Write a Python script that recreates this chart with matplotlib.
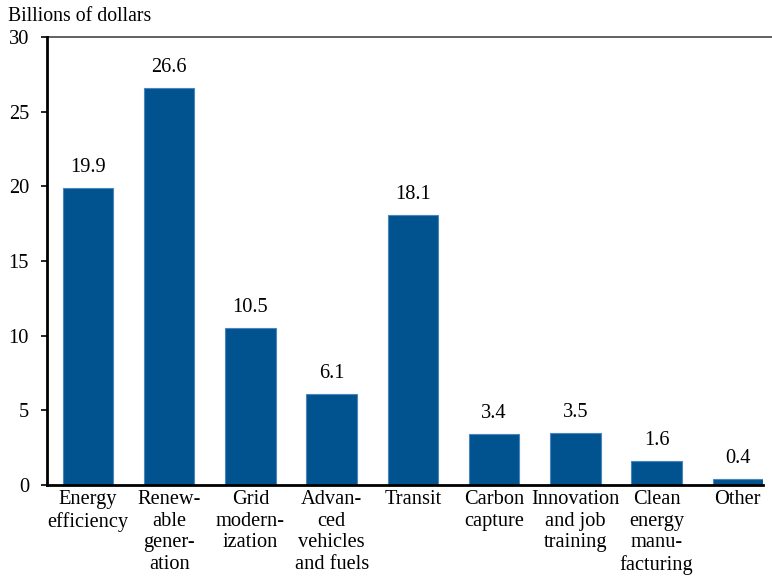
import matplotlib

matplotlib.use("Agg")
import matplotlib.pyplot as plt

categories = [
    "Energy\nefficiency",
    "Renew-\nable\ngener-\nation",
    "Grid\nmodern-\nization",
    "Advan-\nced\nvehicles\nand fuels",
    "Transit",
    "Carbon\ncapture",
    "Innovation\nand job\ntraining",
    "Clean\nenergy\nmanu-\nfacturing",
    "Other",
]
values = [19.9, 26.6, 10.5, 6.1, 18.1, 3.4, 3.5, 1.6, 0.4]
value_labels = ["19.9", "26.6", "10.5", "6.1", "18.1", "3.4", "3.5", "1.6", "0.4"]
y_ticks = [0, 5, 10, 15, 20, 25, 30]

BAR_COLOR = "#01538F"
EDGE_COLOR = "#4a86bd"
FS = 14.7

plt.rcParams["font.family"] = ["Liberation Serif", "DejaVu Serif"]
plt.rcParams["font.size"] = FS

fig = plt.figure(figsize=(7.72, 5.81), dpi=100)
ax = fig.add_axes([47 / 772, 1 - 485 / 581, (763 - 47) / 772, (485 - 37) / 581])

xs = list(range(len(values)))
bars = ax.bar(xs, values, width=0.62, color=BAR_COLOR, edgecolor=EDGE_COLOR, linewidth=0.8)

for x, v, lab in zip(xs, values, value_labels):
    ax.annotate(lab, (x, v), xytext=(0, 11.5), textcoords="offset points",
                ha="center", va="baseline", fontsize=FS)

ax.set_xlim(-0.504, 8.31)
ax.set_ylim(0, 30)
ax.set_yticks(y_ticks)
ax.set_xticks(xs)
ax.set_xticklabels(categories, linespacing=1.2)

ax.tick_params(axis="x", length=0, pad=3.5, labelsize=FS)
ax.tick_params(axis="y", length=4, width=1.2, pad=9, labelsize=FS, direction="out")

for side in ("top", "right"):
    ax.spines[side].set_visible(False)
ax.spines["left"].set_linewidth(2)
ax.spines["bottom"].set_linewidth(2)

# thin rule at the top of the plot, running to the figure edge
ax.plot([0, 1.013], [1, 1], transform=ax.transAxes, color="#555555",
        linewidth=1.3, clip_on=False)

fig.text(8 / 772, 1 - 21 / 581, "Billions of dollars", ha="left", va="baseline", fontsize=14.2)

fig.savefig("out.png", dpi=100)
plt.close(fig)
